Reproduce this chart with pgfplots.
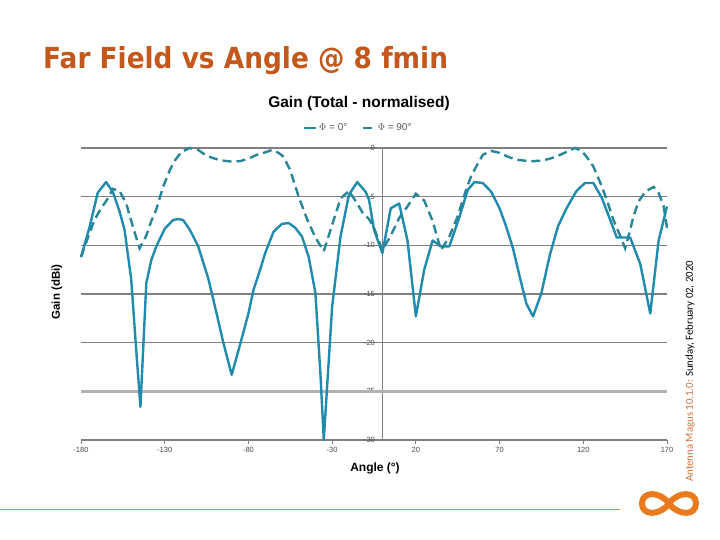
\documentclass[border=0pt]{standalone}
\usepackage{pgfplots}
\pgfplotsset{compat=1.18}
\usepackage{fontspec}
\setmainfont{Liberation Sans}
\newfontfamily\titlefont{DejaVu Sans}
\newfontfamily\sidefont{Carlito}
\definecolor{titleor}{RGB}{196,88,28}
\definecolor{solidc}{RGB}{32,139,172}
\definecolor{dashc}{RGB}{40,134,152}
\definecolor{gridc}{RGB}{128,128,128}
\definecolor{lineor}{RGB}{222,140,70}
\definecolor{logoor}{RGB}{234,122,30}
\begin{document}
\begin{tikzpicture}[x=1pt,y=1pt]
\path[use as bounding box, fill=white] (0,0) rectangle (720,540);
\node[anchor=base west, inner sep=0, text=titleor] at (43,471) {\scalebox{0.91}[1]{\titlefont\bfseries\fontsize{29}{34}\selectfont Far Field vs Angle @ 8 fmin}};
\node[font=\bfseries\fontsize{15.5}{18}\selectfont] at (359,436) {Gain (Total - normalised)};
\node[font=\bfseries\fontsize{12}{14}\selectfont] at (375,72) {Angle (°)};
\node[rotate=90, font=\bfseries\fontsize{11.5}{14}\selectfont] at (57,248) {Gain (dBi)};
\node[rotate=90, anchor=west, inner sep=0, font=\sidefont\fontsize{10.8}{12}\selectfont] at (690,58) {\textcolor{titleor!85}{Antenna Magus 10.1.0:} Sunday, February 02, 2020};
\draw[lineor, line width=0.8pt] (0,31) -- (620,31);
\draw[line width=6pt, logoor, line cap=round] (669,36.5) .. controls (660,49) and (642,49) .. (642,36.5) .. controls (642,24) and (660,24) .. (669,36.5) .. controls (678,49) and (696,49) .. (696,36.5) .. controls (696,24) and (678,24) .. (669,36.5);
\begin{axis}[at={(81pt,100pt)}, anchor=south west, scale only axis,
  width=586pt, height=292pt,
  xmin=-180, xmax=170, ymin=-30, ymax=0,
  axis x line*=bottom, axis y line*=center,
  axis line style={gridc, line width=1pt},
  hide obscured y ticks=false, hide obscured x ticks=false,
  xtick={-180,-130,...,170}, xticklabels={-180,-130,-80,-30,20,70,120,170},
  ytick={-30,-25,...,0}, yticklabels={-30,-25,-20,-15,-10,-5,0},
  tick align=outside, major tick length=4pt,
  tick style={gridc, line width=0.8pt},
  ymajorgrids, grid style={gridc, line width=1.1pt},
  ticklabel style={font=\fontsize{7.5}{9}\selectfont, text=black!70},
  legend columns=2,
  legend style={draw=none, fill=none, at={(axis description cs:0.473,1.0685)}, anchor=center,
    font=\fontsize{10}{12}\selectfont, text=black!65,
    /tikz/every even column/.append style={column sep=12pt}},
  legend image code/.code={\draw[#1, line width=2.4pt] (0pt,0pt) -- (12pt,0pt);},
  clip=false,
]
\draw[line width=3pt, black!30] (axis cs:-180,-25) -- (axis cs:170,-25);
\addplot[solidc, line width=2.4pt, line join=round] coordinates {
(-180,-11.2) (-175,-8.2) (-170,-4.6) (-165,-3.5) (-161,-4.5) (-157,-6.5) (-154,-8.4)
(-150,-13.5) (-147,-20.8) (-144.5,-26.6) (-141,-13.9) (-138,-11.5) (-135,-10.1)
(-130,-8.3) (-125,-7.4) (-122,-7.3) (-119,-7.4) (-115,-8.4) (-110,-10.1) (-104,-13.4)
(-99,-17) (-95,-20) (-90,-23.3) (-85,-20.2) (-80,-17) (-77,-14.6) (-73,-12.5)
(-70,-10.8) (-65,-8.6) (-60,-7.8) (-56,-7.7) (-52,-8.2) (-48,-9.1) (-44,-11.2)
(-40,-14.9) (-37,-23.2) (-35,-30) (-33,-24.5) (-30,-16.3) (-25,-9.1) (-20,-4.8)
(-15,-3.5) (-10,-4.5) (-8,-5.3) (-5,-8.4) (0,-10.8) (5,-6.2) (10,-5.7) (15,-9.5)
(20,-17.3) (25,-12.5) (30,-9.5) (35,-10.1) (40,-10.1) (46,-7.1) (51,-4.3) (55,-3.5)
(60,-3.6) (65,-4.5) (70,-6.2) (74,-8.1) (78,-10.3) (82,-13.2) (86,-16) (90,-17.3)
(95,-14.9) (100,-11) (105,-8.0) (110,-6.2) (116,-4.4) (121,-3.6) (126,-3.6)
(131,-5.1) (135,-6.9) (140,-9.2) (148,-9.2) (154,-11.9) (160,-17) (165,-9.5) (170,-6)
};
\addlegendentry{$\Phi$ = 0°}
\addplot[dashc, line width=2.4pt, dash pattern=on 9pt off 5pt] coordinates {
(-180,-11.2) (-175,-8.8) (-172,-7.4) (-168,-6.2) (-164,-5.2) (-161,-4.2) (-157,-4.4)
(-153,-5.7) (-149,-8.1) (-145,-10.3) (-141,-9.0) (-138,-7.5) (-135,-6.3) (-131,-4.0)
(-127,-2.3) (-124,-1.3) (-120,-0.4) (-115,0) (-110,-0.2) (-105,-0.8) (-100,-1.1)
(-95,-1.3) (-90,-1.4) (-85,-1.35) (-80,-1.1) (-75,-0.7) (-70,-0.45) (-66,-0.2)
(-62,-0.5) (-59,-0.9) (-55,-2.3) (-50,-5) (-45,-7.3) (-40,-9.2) (-35,-10.6)
(-30,-7.9) (-25,-5.2) (-20,-4.4) (-15,-5.7) (-12,-6.6) (-8,-7.3) (-5,-8.2) (0,-10.5)
(5,-9.0) (10,-7.2) (15,-6) (20,-4.7) (25,-5.4) (30,-7.5) (35,-10.5) (40,-9.1)
(45,-7) (50,-4.3) (53,-2.9) (57,-1.6) (60,-0.7) (65,-0.3) (70,-0.5) (75,-0.9)
(80,-1.2) (85,-1.3) (90,-1.35) (95,-1.3) (100,-1.1) (105,-0.8) (110,-0.4) (115,0)
(119,-0.3) (122,-0.9) (126,-1.9) (130,-3.5) (134,-5.3) (138,-7.4) (142,-9.0)
(145,-10.3) (148,-8.4) (150,-7.0) (153,-5.5) (157,-4.5) (162,-4.0) (165,-4.6)
(168,-6.0) (170,-8.2)
};
\addlegendentry{$\Phi$ = 90°}
\end{axis}
\end{tikzpicture}
\end{document}
